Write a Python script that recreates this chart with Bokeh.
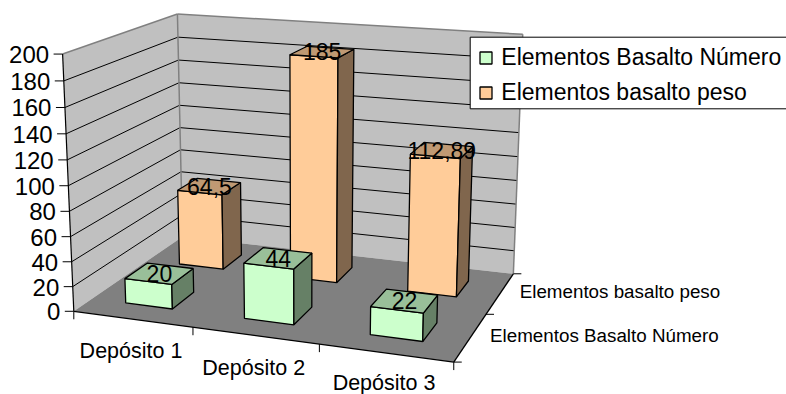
import numpy as np
from bokeh.core.properties import value
from bokeh.embed import file_html
from bokeh.models import Legend, LegendItem
from bokeh.plotting import figure
from bokeh.resources import INLINE

categories = ["Depósito 1", "Depósito 2", "Depósito 3"]
series_names = ["Elementos Basalto Número", "Elementos basalto peso"]
numero = [20, 44, 22]
peso = [64.5, 185, 112.89]
numero_labels = ["20", "44", "22"]
peso_labels = ["64,5", "185", "112,89"]
y_ticks = list(range(0, 201, 20))

Y_MAX = 200
BAR_W = 0.40
BAR_D = 0.40
BAR_SHIFT = -0.008
FONT = value("Liberation Sans")

# camera fitted to the corners of the plot box: (category, value, series depth) -> pixel
anchors = [
    ((0, 0, 0), (74, 311)), ((0, 200, 0), (62.3, 53.3)),
    ((0, 0, 2), (182, 236.5)), ((0, 200, 2), (176.7, 13.3)),
    ((3, 0, 2), (513, 272.7)), ((3, 200, 2), (522.3, 34.3)),
    ((3, 0, 0), (453.7, 361.7)), ((1, 0, 0), (191.7, 326.7)), ((2, 0, 0), (318.3, 343.6)),
]
A, b = [], []
for (X, Y, Z), (u, v) in anchors:
    Y = Y / 100
    A.append([X, Y, Z, 1, 0, 0, 0, 0, -u * X, -u * Y, -u * Z]); b.append(u)
    A.append([0, 0, 0, 0, X, Y, Z, 1, -v * X, -v * Y, -v * Z]); b.append(v)
m = np.linalg.lstsq(np.array(A, float), np.array(b, float), rcond=None)[0]
P = np.append(m, 1.0).reshape(3, 4)


def pr(x, y, z):
    h = P @ np.array([x, y / 100, z, 1.0])
    return h[0] / h[2], h[1] / h[2]


def poly(pts):
    q = [pr(*t) for t in pts]
    return [a for a, _ in q], [c for _, c in q]


p = figure(width=786, height=394, x_range=(0, 786), y_range=(394, 0), min_border=0,
           toolbar_location=None, output_backend="svg", outline_line_color=None,
           background_fill_color="white", border_fill_color="white")
p.styles = {"position": "absolute", "left": "0px", "top": "0px"}
p.axis.visible = False
p.grid.visible = False

WALL, FLOOR, EDGE = "#C0C0C0", "#808080", "#808080"


def face(pts, fill, **kw):
    xs, ys = poly(pts)
    return p.patch(xs, ys, fill_color=fill, line_color=kw.get("line", "black"), line_width=kw.get("lw", 1.3))


def seg(pts_a, pts_b, color="black", width=1.0):
    a, c = pr(*pts_a), pr(*pts_b)
    p.line([a[0], c[0]], [a[1], c[1]], line_color=color, line_width=width)


# walls
face([(0, 0, 0), (0, Y_MAX, 0), (0, Y_MAX, 2), (0, 0, 2)], WALL, line=None)
face([(0, 0, 2), (0, Y_MAX, 2), (3, Y_MAX, 2), (3, 0, 2)], WALL, line=None)
for t in y_ticks[1:-1]:
    seg((0, t, 0), (0, t, 2))
    seg((0, t, 2), (3, t, 2))
seg((0, Y_MAX, 0), (0, Y_MAX, 2), EDGE, 1.5)
seg((0, Y_MAX, 2), (3, Y_MAX, 2), EDGE, 1.5)
seg((0, 0, 2), (0, Y_MAX, 2), EDGE, 1.5)
seg((3, 0, 2), (3, Y_MAX, 2), EDGE, 1.5)
# floor
face([(0, 0, 0), (3, 0, 0), (3, 0, 2), (0, 0, 2)], FLOOR, line=None)
seg((0, 0, 0), (0, Y_MAX, 0), "black", 1.2)
seg((0, 0, 0), (3, 0, 0), "black", 1.3)
seg((3, 0, 0), (3, 0, 2), "black", 1.3)

# value axis ticks and labels
tx, ty = [], []
for t in y_ticks:
    a = pr(0, t, 0)
    p.line([a[0] - 9, a[0]], [a[1], a[1]], line_color="black", line_width=1)
    tx.append(a[0] - 13.5)
    ty.append(a[1] + 0.5)
p.text(tx, ty, text=[str(t) for t in y_ticks], text_font=FONT, text_font_size="24px",
       text_align="right", text_baseline="middle", text_color="black")

# category ticks and labels
for i in range(len(categories) + 1):
    a = pr(i, 0, 0)
    p.line([a[0], a[0]], [a[1], a[1] + 8], line_color="black", line_width=1)
cx, cy = [], []
for i in range(len(categories)):
    a = pr(i + 0.5, 0, 0)
    cx.append(a[0] - 1.5)
    cy.append(min(a[1] + 32, 382))
p.text(cx, cy, text=categories, text_font=FONT, text_font_size="21.5px",
       text_align="center", text_baseline="middle", text_color="black")

# depth ticks and labels
for z in range(3):
    a = pr(3, 0, z)
    p.line([a[0], a[0] + 8], [a[1], a[1]], line_color="black", line_width=1)
dx, dy = [], []
for s in range(2):
    a = pr(3, 0, s + 0.5)
    dx.append(a[0] + 19.5)
    dy.append(a[1] - 2)
p.text(dx, dy, text=series_names, text_font=FONT, text_font_size="18.8px",
       text_align="left", text_baseline="middle", text_color="black")


def box(i, s, v, front, top, side):
    x0, x1 = i + BAR_SHIFT + (1 - BAR_W) / 2, i + BAR_SHIFT + (1 + BAR_W) / 2
    z0, z1 = s + (1 - BAR_D) / 2, s + (1 + BAR_D) / 2
    r = face([(x0, 0, z0), (x1, 0, z0), (x1, v, z0), (x0, v, z0)], front)
    face([(x1, 0, z0), (x1, 0, z1), (x1, v, z1), (x1, v, z0)], side)
    face([(x0, v, z0), (x1, v, z0), (x1, v, z1), (x0, v, z1)], top)
    return r


rp = [box(i, 1, v, "#FFCC99", "#BF9973", "#80664D") for i, v in enumerate(peso)]
rn = [box(i, 0, v, "#CCFFCC", "#99BF99", "#668066") for i, v in enumerate(numero)]

# data labels
lx, ly, lt = [], [], []
for s, (vals, labs) in enumerate([(numero, numero_labels), (peso, peso_labels)]):
    for i, (v, t) in enumerate(zip(vals, labs)):
        a = pr(i + 0.5 + BAR_SHIFT, v, s + 0.5)
        lx.append(a[0])
        ly.append(a[1])
        lt.append(t)
p.text(lx, ly, text=lt, text_font=FONT, text_font_size="23px", text_align="center",
       text_baseline="middle", text_color="black")

# legend panel behind the native legend entries
p.quad(left=[469.7], right=[800], top=[36.7], bottom=[108.3], fill_color="white",
       line_color="black", line_width=1)
legend = Legend(items=[LegendItem(label=series_names[0], renderers=[rn[0]]),
                       LegendItem(label=series_names[1], renderers=[rp[0]])],
                location=(478.3, 288), orientation="vertical", margin=0, padding=0,
                glyph_width=15, glyph_height=15, label_standoff=8, spacing=8,
                label_text_font="Liberation Sans", label_text_font_size="23px",
                label_text_color="black", border_line_color=None,
                background_fill_alpha=0.0)
p.add_layout(legend, "center")

open("out.html", "w").write(file_html(p, INLINE))
